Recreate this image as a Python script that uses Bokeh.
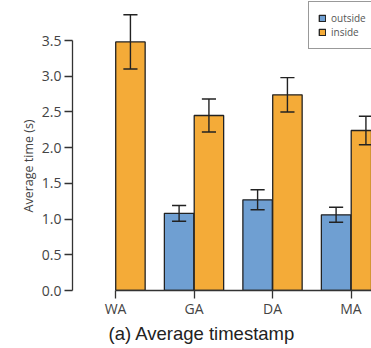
import math
from bokeh.plotting import figure
from bokeh.models import ColumnDataSource, FixedTicker, Legend, LegendItem, Title, NumeralTickFormatter
from bokeh.embed import file_html
from bokeh.resources import INLINE

categories = ["WA", "GA", "DA", "MA"]
outside_mean = [math.nan, 1.08, 1.27, 1.06]
outside_err = [math.nan, 0.11, 0.14, 0.105]
inside_mean = [3.48, 2.45, 2.74, 2.24]
inside_err = [0.38, 0.23, 0.24, 0.20]
y_ticks = [0.0, 0.5, 1.0, 1.5, 2.0, 2.5, 3.0, 3.5]

BLUE = "#6f9fd2"
ORANGE = "#f4ab38"
DARK = "#222222"
FONT = "Open Sans"

pos = list(range(len(categories)))
off = 0.19
bw = 0.375
cap = 0.09

p = figure(width=371, height=348, output_backend="svg", toolbar_location=None,
           x_range=(-0.548, 3.261), y_range=(0, 4.06),
           min_border_left=72, min_border_right=0, min_border_top=0, min_border_bottom=58)
p.outline_line_color = None
p.xgrid.visible = False
p.ygrid.visible = False
p.background_fill_color = "white"

def draw(means, errs, shift, color):
    xs = [x + shift for x, m in zip(pos, means) if not math.isnan(m)]
    ms = [m for m in means if not math.isnan(m)]
    es = [e for e in errs if not math.isnan(e)]
    src = ColumnDataSource(dict(x=xs, top=ms, lo=[m - e for m, e in zip(ms, es)],
                                hi=[m + e for m, e in zip(ms, es)],
                                cl=[x - cap for x in xs], cr=[x + cap for x in xs]))
    r = p.vbar(x="x", top="top", bottom=0, width=bw, source=src, fill_color=color,
               line_color=DARK, line_width=1.3)
    p.segment(x0="x", y0="lo", x1="x", y1="hi", source=src, line_color=DARK, line_width=1.4)
    p.segment(x0="cl", y0="hi", x1="cr", y1="hi", source=src, line_color=DARK, line_width=1.4)
    p.segment(x0="cl", y0="lo", x1="cr", y1="lo", source=src, line_color=DARK, line_width=1.4)
    return r

r_out = draw(outside_mean, outside_err, -off, BLUE)
r_in = draw(inside_mean, inside_err, off, ORANGE)

# axes
p.xaxis.ticker = FixedTicker(ticks=pos)
p.xaxis.major_label_overrides = {i: c for i, c in enumerate(categories)}
p.xaxis.bounds = (0, 4)
p.xaxis.major_tick_out = 8
p.xaxis.major_tick_in = 0
p.xaxis.minor_tick_line_color = None
p.xaxis.axis_line_color = "#333333"
p.xaxis.axis_line_width = 1.3
p.xaxis.major_tick_line_color = "#333333"
p.xaxis.major_tick_line_width = 1.3
p.xaxis.major_label_text_font = FONT
p.xaxis.major_label_text_font_size = "14px"
p.xaxis.major_label_text_color = "#444444"
p.xaxis.major_label_standoff = 0

p.yaxis.ticker = FixedTicker(ticks=y_ticks)
p.yaxis.formatter = NumeralTickFormatter(format="0.0")
p.yaxis.bounds = (0, 3.5)
p.yaxis.major_tick_out = 8
p.yaxis.major_tick_in = 0
p.yaxis.minor_tick_line_color = None
p.yaxis.axis_line_color = "#333333"
p.yaxis.axis_line_width = 1.3
p.yaxis.major_tick_line_color = "#333333"
p.yaxis.major_tick_line_width = 1.3
p.yaxis.major_label_text_font = FONT
p.yaxis.major_label_text_font_size = "14px"
p.yaxis.major_label_text_color = "#444444"
p.yaxis.major_label_standoff = 3

ylab = Title(text="Average time (s)", align="left", offset=78,
             text_font=FONT, text_font_size="12.5px", text_font_style="normal",
             text_color="#444444", standoff=4)
p.add_layout(ylab, "left")

caption = Title(text="(a) Average timestamp", align="left", offset=36,
                text_font="Liberation Sans", text_font_size="18.5px",
                text_font_style="normal", text_color="#222222", standoff=0)
p.add_layout(caption, "below")

legend = Legend(items=[LegendItem(label="outside", renderers=[r_out]),
                       LegendItem(label="inside", renderers=[r_in])],
                location=(236, 241))
legend.label_text_font = FONT
legend.label_text_font_size = "10px"
legend.label_text_color = "#555555"
legend.glyph_width = 8
legend.glyph_height = 8
legend.label_height = 12
legend.label_standoff = 5
legend.spacing = 0
legend.padding = 9
legend.margin = 0
legend.border_line_color = "#333333"
legend.border_line_width = 1
legend.background_fill_alpha = 1
p.add_layout(legend, "center")

open("out.html", "w").write(file_html(p, INLINE))
